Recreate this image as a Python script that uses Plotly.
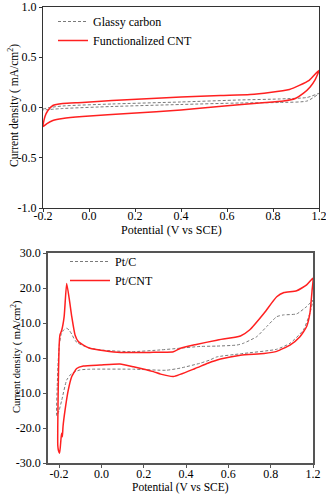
import plotly.graph_objects as go

# ---------------- Top panel: Glassy carbon vs Functionalized CNT ----------------
gc_x = [-0.2, -0.165, -0.1, 0.15, 0.5, 0.8, 1.0, 1.14, 1.2,
        1.14, 1.0, 0.8, 0.5, 0.15, -0.1, -0.2]
gc_y = [-0.015, 0.0, 0.015, 0.035, 0.055, 0.075, 0.085, 0.1, 0.14,
        0.065, 0.05, 0.045, 0.03, 0.01, -0.01, -0.025]

fcnt_x = [-0.2, -0.19, -0.175, -0.15, -0.1, 0.0, 0.15, 0.3, 0.5, 0.7, 0.85, 0.95, 1.05, 1.1, 1.15, 1.2,
          1.18, 1.155, 1.12, 1.08, 1.02, 0.9, 0.72, 0.5, 0.25, 0.0, -0.1, -0.15, -0.18, -0.2]
fcnt_y = [-0.19, -0.09, -0.03, 0.02, 0.04, 0.05, 0.07, 0.085, 0.105, 0.12, 0.13, 0.15, 0.18, 0.22, 0.27, 0.37,
          0.275, 0.205, 0.14, 0.09, 0.065, 0.045, 0.015, -0.025, -0.058, -0.09, -0.11, -0.13, -0.16, -0.19]

# ---------------- Bottom panel: Pt/C vs Pt/CNT ----------------
ptc_x = [-0.213, -0.21, -0.205, -0.198, -0.19, -0.175, -0.158, -0.145, -0.13, -0.112, -0.094, -0.066, -0.03,
         0.05, 0.2, 0.357, 0.467, 0.577, 0.67, 0.78, 0.816, 0.89, 0.945, 1.0, 1.036, 1.11, 1.165, 1.2,
         1.198, 1.183, 1.147, 1.073, 1.0, 0.8, 0.669, 0.63, 0.577, 0.467, 0.39, 0.21, -0.03, -0.084,
         -0.13, -0.158, -0.185, -0.2, -0.213]
ptc_y = [-16.5, -8, -1, 4, 6.5, 8, 8.5, 8, 6.8, 5, 4.2, 3.5, 2.8,
         2.2, 1.8, 2.3, 2.8, 3.3, 3.4, 3.7, 4.2, 6.1, 9, 11.8, 12.3, 12.6, 14.7, 16.5,
         16, 12.8, 8, 4.2, 2.5, 1.2, 0.3, -0.6, -1.5, -2.9, -3.5, -3.2, -3.2, -3.4,
         -4.4, -6.3, -12, -15, -16.5]

ptcnt_x = [-0.207, -0.205, -0.2, -0.195, -0.185, -0.172, -0.158, -0.143, -0.13, -0.112, -0.094, -0.066,
           -0.03, 0.05, 0.14, 0.3, 0.43, 0.47, 0.55, 0.67, 0.8, 0.85, 0.93, 1.0, 1.04, 1.11, 1.165, 1.2,
           1.195, 1.183, 1.165, 1.128, 1.073, 1.0, 0.93, 0.8, 0.69, 0.62, 0.55, 0.43, 0.36, 0.32, 0.21,
           0.136, 0.026, -0.066, -0.103, -0.13, -0.149, -0.167, -0.178, -0.182, -0.186, -0.19, -0.197,
           -0.203, -0.207]
ptcnt_y = [-25, -10, 3, 6.6, 8, 11.8, 21.3, 16.6, 11.8, 6.6, 4.7, 3.7,
           2.8, 2.1, 1.6, 1.6, 1.8, 2.8, 3.8, 5.1, 6.3, 8, 12.8, 17.5, 18.7, 19.2, 20.9, 22.8,
           19.4, 12.8, 9, 6.1, 3.7, 1.9, 1.3, 0.8, -0.3, -1.5, -3.0, -5.3, -4.6, -3.9, -2.5,
           -1.7, -2.0, -2.3, -3.0, -5.3, -9.1, -14.9, -19.5, -22.5, -21.5, -23.5, -27.2,
           -26.5, -25]

# tick labels as printed in the original figure
x_ticktext = ["-0.2", "0.0", "0.2", "0.4", "0.6", "0.8", "1.2"]
top_y_ticks = [1.0, 0.5, 0.0, -0.5, -1.0]
top_y_ticktext = ["1.0", "0.5", "0.0", "-0.5", "-1.0"]
bot_y_ticks = [30, 20, 10, 0, -10, -20, -30]
bot_y_ticktext = ["30.0", "20.0", "10.0", "0.0", "-10.0", "-20.0", "-30.0"]

x_tickvals = [-0.2 + i * 1.4 / 6 for i in range(7)]

FONT = "Liberation Serif"
RED = "#ff2020"
GRAY = "#7a7a7a"
W, H = 326, 497

fig = go.Figure()
fig.add_trace(go.Scatter(x=gc_x, y=gc_y, mode="lines", name="Glassy carbon",
                         line=dict(color=GRAY, width=1, dash="3px,2px", shape="spline", smoothing=0.6),
                         xaxis="x", yaxis="y", legend="legend"))
fig.add_trace(go.Scatter(x=fcnt_x, y=fcnt_y, mode="lines", name="Functionalized CNT",
                         line=dict(color=RED, width=1.5, shape="spline", smoothing=0.6),
                         xaxis="x", yaxis="y", legend="legend"))
fig.add_trace(go.Scatter(x=ptc_x, y=ptc_y, mode="lines", name="Pt/C",
                         line=dict(color=GRAY, width=1, dash="3px,2px", shape="spline", smoothing=0.5),
                         xaxis="x2", yaxis="y2", legend="legend2"))
fig.add_trace(go.Scatter(x=ptcnt_x, y=ptcnt_y, mode="lines", name="Pt/CNT",
                         line=dict(color=RED, width=1.5, shape="spline", smoothing=0.5),
                         xaxis="x2", yaxis="y2", legend="legend2"))

axis_common = dict(showgrid=False, zeroline=False, showline=True, mirror=True, automargin=False,
                   ticks="outside", ticklen=3, ticklabeloverflow="allow",
                   tickfont=dict(family=FONT, size=12, color="#000"))

fig.update_layout(
    template="none",
    width=W, height=H,
    margin=dict(l=0, r=0, t=0, b=0, autoexpand=False),
    paper_bgcolor="white", plot_bgcolor="white",
    font=dict(family=FONT, size=12, color="#000"),
    xaxis=dict(domain=[43 / W, 319 / W], range=[-0.2, 1.2], anchor="y",
               tickvals=x_tickvals, ticktext=x_ticktext, ticklabelstandoff=-6,
               linecolor="#333", linewidth=1, tickcolor="#333", **axis_common),
    yaxis=dict(domain=[1 - 208 / H, 1 - 7 / H], range=[-1.0, 1.0], anchor="x",
               tickvals=top_y_ticks, ticktext=top_y_ticktext,
               linecolor="#333", linewidth=1, tickcolor="#333", **axis_common),
    xaxis2=dict(domain=[48 / W, 313 / W], range=[-0.261, 1.2], anchor="y2",
                tickvals=x_tickvals, ticktext=x_ticktext, ticklabelstandoff=-4,
                linecolor="#555", linewidth=1.5, tickcolor="#555", **axis_common),
    yaxis2=dict(domain=[1 - 463 / H, 1 - 253 / H], range=[-30, 30], anchor="x2",
                tickvals=bot_y_ticks, ticktext=bot_y_ticktext,
                linecolor="#555", linewidth=1.5, tickcolor="#555", **axis_common),
    legend=dict(x=53 / W, y=1 - 7 / H, xanchor="left", yanchor="top",
                bgcolor="rgba(0,0,0,0)", font=dict(family=FONT, size=12, color="#000")),
    legend2=dict(x=65 / W, y=1 - 247 / H, xanchor="left", yanchor="top", itemwidth=40,
                 bgcolor="rgba(0,0,0,0)", font=dict(family=FONT, size=12, color="#000")),
    showlegend=True,
    annotations=[
        dict(text="Potential (V vs SCE)", x=172 / W, y=1 - 230 / H, xref="paper", yref="paper",
             showarrow=False, font=dict(family=FONT, size=12), xanchor="center", yanchor="middle"),
        dict(text="Current density ( mA/cm<sup>2</sup>)", x=13 / W, y=1 - 106 / H, xref="paper", yref="paper",
             showarrow=False, textangle=-90, font=dict(family=FONT, size=11.5), xanchor="center", yanchor="middle"),
        dict(text="Potential (V vs SCE)", x=180 / W, y=1 - 487 / H, xref="paper", yref="paper",
             showarrow=False, font=dict(family=FONT, size=11.5), xanchor="center", yanchor="middle"),
        dict(text="Current density ( mA/cm<sup>2</sup>)", x=16 / W, y=1 - 357 / H, xref="paper", yref="paper",
             showarrow=False, textangle=-90, font=dict(family=FONT, size=10.5), xanchor="center", yanchor="middle"),
    ],
)

fig.write_html("out.html", config={"displayModeBar": False},
               post_script="document.body.style.margin='0';document.body.style.padding='0';")
